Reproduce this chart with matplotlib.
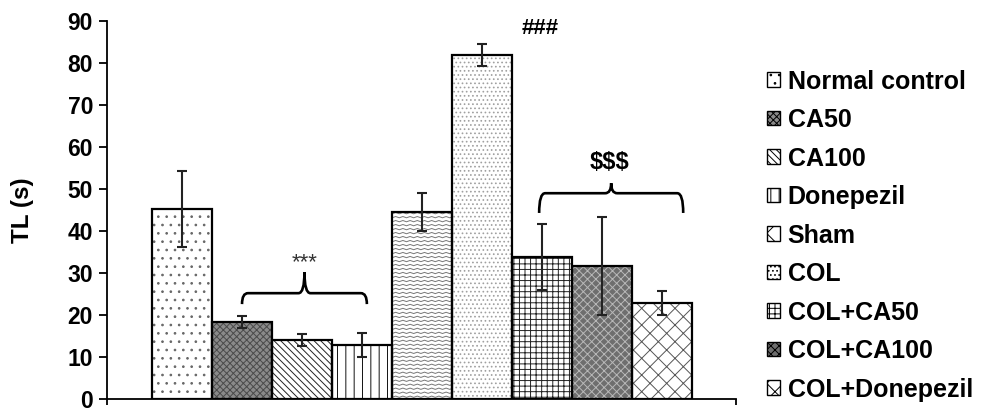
import numpy as np
import matplotlib
matplotlib.use("Agg")
import matplotlib.pyplot as plt
from matplotlib.patches import Patch, PathPatch
from matplotlib.path import Path

plt.rcParams['font.family'] = ['Liberation Sans', 'DejaVu Sans']
plt.rcParams['font.weight'] = 'bold'
plt.rcParams['hatch.linewidth'] = 0.7

# data
groups = ["Normal control", "CA50", "CA100", "Donepezil", "Sham", "COL",
          "COL+CA50", "COL+CA100", "COL+Donepezil"]
means = [45.3, 18.4, 14.0, 12.9, 44.5, 81.9, 33.8, 31.7, 22.8]
errors = [9.1, 1.4, 1.4, 2.8, 4.6, 2.7, 7.8, 11.6, 2.9]

# fill styles: facecolor, hatch, hatch colour
styles = [
    ("white", "..", "#666666"),
    ("#8a8a8a", "xxxxx", "#4a4a4a"),
    ("white", "\\\\\\\\\\", "#222222"),
    ("white", "||", "#111111"),
    ("white", None, "#777777"),     # wavy, drawn by hand below
    ("white", "....", "#a0a0a0"),
    ("white", "+++", "#222222"),
    ("#6e6e6e", "xxxx", "#b8b8b8"),
    ("white", "xx", "#555555"),
]

fig = plt.figure(figsize=(9.84, 4.08), dpi=100)
ax = fig.add_axes([0.1087, 0.022, 0.6393, 0.9265])

x = np.arange(len(groups))
for i, (fc, h, hc) in enumerate(styles):
    ax.bar(x[i], means[i], width=1.0, color=fc, edgecolor=hc, hatch=h,
           linewidth=0, zorder=2)

# zigzag texture for Sham bar
sham = 4
rect = ax.bar(x[sham], means[sham], width=1.0, facecolor='none',
              edgecolor='none', zorder=2)[0]
zx = np.arange(x[sham] - 0.5, x[sham] + 0.5 + 0.06, 0.06)
for base in np.arange(0.4, means[sham] + 1, 0.95):
    zy = base + 0.3 * (np.arange(len(zx)) % 2)
    ln, = ax.plot(zx, zy, color='#777777', lw=0.7, zorder=2.5)
    ln.set_clip_path(rect)

# outlines
ax.bar(x, means, width=1.0, facecolor='none', edgecolor='black',
       linewidth=1.6, zorder=3)
ax.errorbar(x, means, yerr=errors, fmt='none', ecolor='#222222',
            elinewidth=1.5, capsize=3.6, capthick=1.5, zorder=4)


def brace(x0, x1, yend, yh, ytip):
    xm = (x0 + x1) / 2
    r = 0.1
    verts = [(x0, yend), (x0, yh), (x0 + r, yh),
             (xm - r, yh), (xm, yh), (xm, ytip),
             (xm, yh), (xm + r, yh),
             (x1 - r, yh), (x1, yh), (x1, yend)]
    codes = [Path.MOVETO, Path.CURVE3, Path.CURVE3,
             Path.LINETO, Path.CURVE3, Path.CURVE3,
             Path.CURVE3, Path.CURVE3,
             Path.LINETO, Path.CURVE3, Path.CURVE3]
    ax.add_patch(PathPatch(Path(verts, codes), fill=False, lw=1.9,
                           edgecolor='black', zorder=5))


brace(1.0, 3.08, 22.6, 25.2, 30.2)
brace(5.95, 8.35, 44.3, 49.0, 51.4)

ax.text(2.04, 32.4, "***", ha='center', va='center', fontsize=16,
        fontweight='normal', color='#333333')
ax.text(5.97, 88.3, "###", ha='center', va='center', fontsize=16)
ax.text(7.13, 56.4, r"\$\$\$", ha='center', va='center', fontsize=17)

ax.set_xlim(-1.25, 9.23)
ax.set_ylim(0, 90)
ax.set_yticks(np.arange(0, 91, 10))
ax.set_xticks([-1.25, 9.23])
ax.set_xticklabels([])
ax.tick_params(axis='x', direction='out', length=4, width=1.3)
ax.tick_params(axis='y', direction='out', length=6, width=1.3,
               labelsize=16.5, pad=4)
for lab in ax.get_yticklabels():
    lab.set_fontweight('bold')
ax.spines['top'].set_visible(False)
ax.spines['right'].set_visible(False)
ax.spines['left'].set_linewidth(1.3)
ax.spines['bottom'].set_linewidth(1.3)
ax.set_ylabel("TL (s)", fontsize=17.5, fontweight='bold')
ax.yaxis.set_label_coords(-0.116, 0.5)

handles = [Patch(facecolor=fc, edgecolor='black', hatch=h, linewidth=1.0)
           for fc, h, hc in styles]
handles[4] = Patch(facecolor='white', edgecolor='black', hatch='\\/', lw=1.0)
fig.legend(handles, groups, loc='upper left', bbox_to_anchor=(0.769, 0.854),
           frameon=False, fontsize=18, handlelength=0.52, handleheight=0.52,
           handletextpad=0.32, labelspacing=0.58, borderaxespad=0)

fig.savefig("out.png", dpi=100)
